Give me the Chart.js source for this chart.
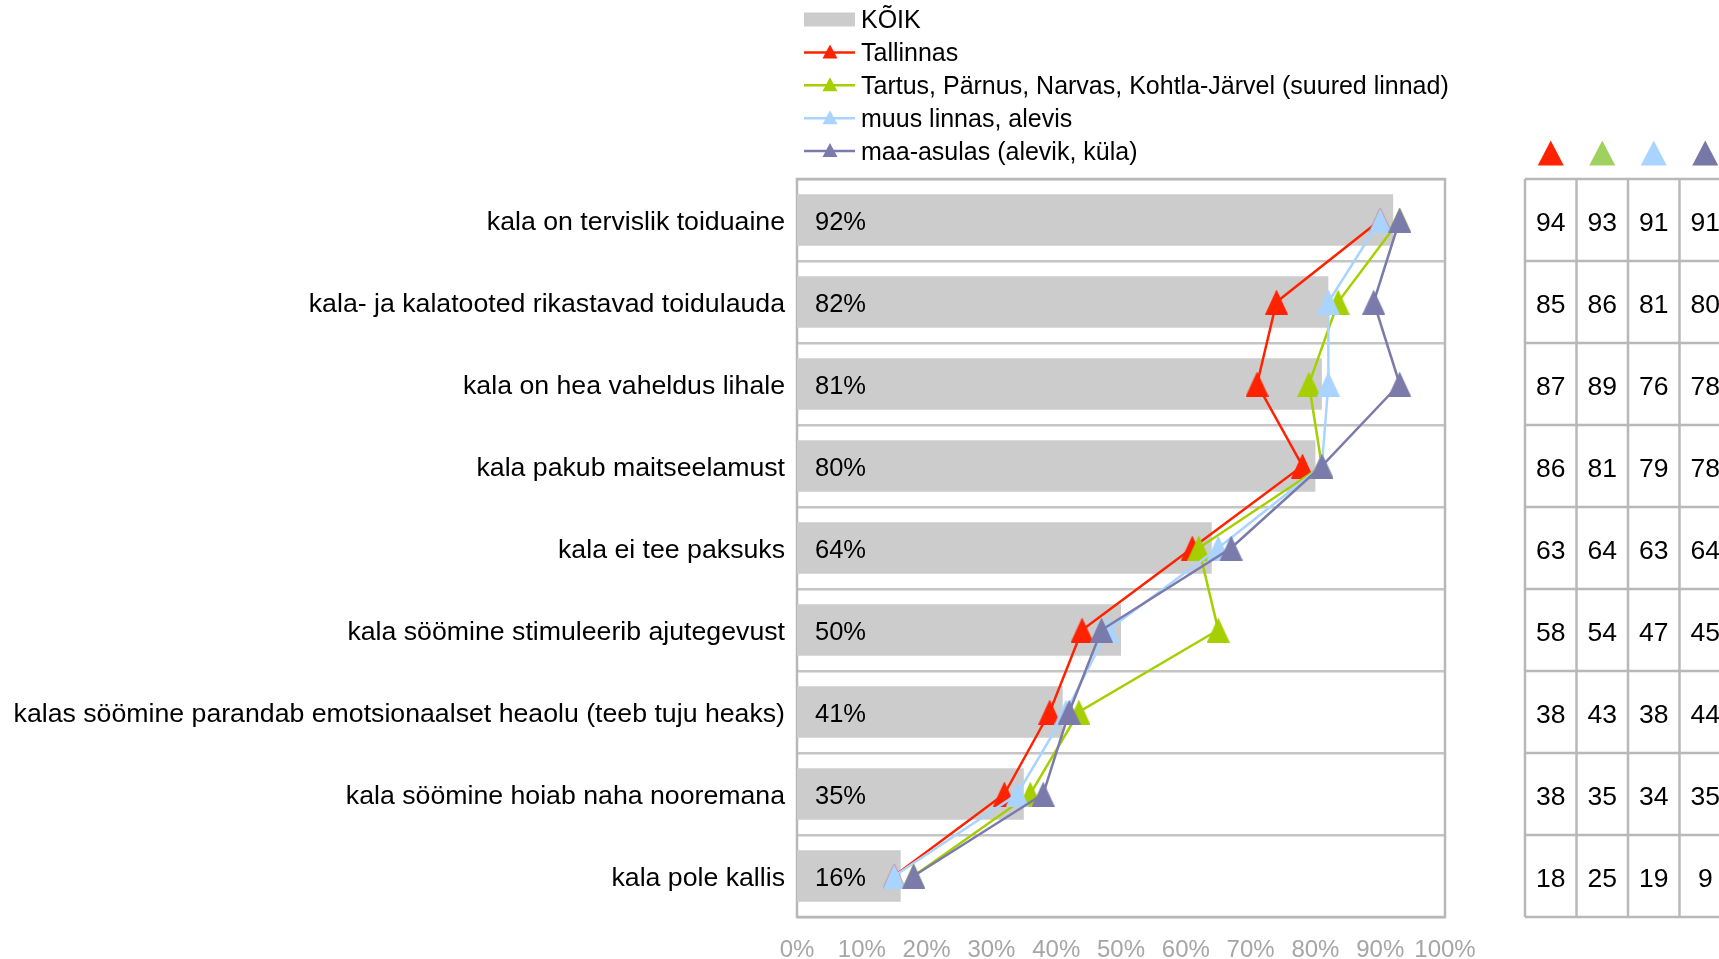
<!DOCTYPE html>
<html>
<head>
<meta charset="utf-8">
<script src="https://cdn.jsdelivr.net/npm/chart.js@4"></script>
<style>
html,body{margin:0;padding:0;background:#fff;}
#wrap{width:1719px;height:959px;position:relative;}
</style>
</head>
<body>
<div id="wrap"><canvas id="c" width="1719" height="959"></canvas></div>
<script>
// ---------- DATA ----------
const categories = [
  "kala on tervislik toiduaine",
  "kala- ja kalatooted rikastavad toidulauda",
  "kala on hea vaheldus lihale",
  "kala pakub maitseelamust",
  "kala ei tee paksuks",
  "kala söömine stimuleerib ajutegevust",
  "kalas söömine parandab emotsionaalset heaolu (teeb tuju heaks)",
  "kala söömine hoiab naha nooremana",
  "kala pole kallis"
];
const seriesLabels = [
  "KÕIK",
  "Tallinnas",
  "Tartus, Pärnus, Narvas, Kohtla-Järvel (suured linnad)",
  "muus linnas, alevis",
  "maa-asulas (alevik, küla)"
];
const koik        = [92, 82, 81, 80, 64, 50, 41, 35, 16];
const tallinnas   = [90, 74, 71, 78, 61, 44, 39, 32, 15];
const suuredLinnad= [93, 83.5, 79, 81, 62, 65, 43.5, 36, 18];
const muusLinnas  = [90, 82, 82, 81, 65, 48, 41.5, 34, 15];
const maaAsulas   = [93, 89, 93, 81, 67, 47, 42, 38, 18];
const xTickValues = [0, 10, 20, 30, 40, 50, 60, 70, 80, 90, 100];
// side table: Tallinnas, suured linnad, muus linnas, maa-asulas
const tableRows = [
  [94, 93, 91, 91],
  [85, 86, 81, 80],
  [87, 89, 76, 78],
  [86, 81, 79, 78],
  [63, 64, 63, 64],
  [58, 54, 47, 45],
  [38, 43, 38, 44],
  [38, 35, 34, 35],
  [18, 25, 19, 9]
];

// ---------- STYLE ----------
const FONT = '"Liberation Sans", Arial, sans-serif';
const colBar = '#cccccc';
const lineColors = ['#ff2200', '#a5cf00', '#a8d4ff', '#7b7bab'];
const headerColors = ['#ff2200', '#9fd15f', '#a8d4ff', '#7777a8'];

function triImg(color, w, h) {
  const c = document.createElement('canvas');
  c.width = w; c.height = h;
  const g = c.getContext('2d');
  g.fillStyle = color;
  g.beginPath();
  g.moveTo(w / 2, 0);
  g.lineTo(w, h);
  g.lineTo(0, h);
  g.closePath();
  g.fill();
  return c;
}
function drawTri(ctx, cx, cy, w, h, color) {
  ctx.fillStyle = color;
  ctx.beginPath();
  ctx.moveTo(cx, cy - h / 2);
  ctx.lineTo(cx + w / 2, cy + h / 2);
  ctx.lineTo(cx - w / 2, cy + h / 2);
  ctx.closePath();
  ctx.fill();
}

const lineSeries = [tallinnas, suuredLinnad, muusLinnas, maaAsulas];
const lineDatasets = lineSeries.map((arr, i) => ({
  type: 'line',
  label: seriesLabels[i + 1],
  data: arr,
  indexAxis: 'y',
  borderColor: lineColors[i],
  backgroundColor: lineColors[i],
  borderWidth: 2.5,
  pointStyle: triImg(lineColors[i], 23, 25),
  pointRadius: 12,
  tension: 0,
  fill: false,
  order: 4 - i
}));

const datasets = [{
  type: 'bar',
  label: seriesLabels[0],
  data: koik,
  indexAxis: 'y',
  backgroundColor: colBar,
  borderWidth: 0,
  barPercentage: 0.63,
  categoryPercentage: 1.0,
  order: 10
}].concat(lineDatasets);

// ---------- PLUGINS ----------
const frameAndTable = {
  id: 'frameAndTable',
  beforeDatasetsDraw(chart) {
    const { ctx, chartArea: a } = chart;
    ctx.save();
    ctx.strokeStyle = '#b8b8b8';
    ctx.lineWidth = 2.5;
    ctx.strokeRect(a.left, a.top, a.right - a.left, a.bottom - a.top);
    ctx.restore();
  },
  afterDatasetDraw(chart, args) {
    if (args.index !== 0) return;
    const { ctx, chartArea: a } = chart;
    const meta = chart.getDatasetMeta(0);
    ctx.save();
    ctx.font = '25.5px ' + FONT;
    ctx.fillStyle = '#000';
    ctx.textBaseline = 'middle';
    ctx.textAlign = 'left';
    meta.data.forEach((el, i) => {
      ctx.fillText(koik[i] + '%', a.left + 18, el.y + 3);
    });
    ctx.restore();
  },
  afterDraw(chart) {
    const { ctx, chartArea: a } = chart;
    const y = chart.scales.y;
    ctx.save();
    // ---- legend ----
    ctx.font = '25px ' + FONT;
    ctx.textBaseline = 'middle';
    ctx.textAlign = 'left';
    chart.data.datasets.forEach((d, i) => {
      const cy = 19.5 + i * 32.9;
      if (d.type === 'bar') {
        ctx.fillStyle = d.backgroundColor;
        ctx.fillRect(804, cy - 7, 51, 14);
      } else {
        ctx.strokeStyle = d.borderColor;
        ctx.lineWidth = 2.5;
        ctx.beginPath();
        ctx.moveTo(804, cy);
        ctx.lineTo(855, cy);
        ctx.stroke();
        drawTri(ctx, 830, cy - 1, 15, 14, d.borderColor);
      }
      ctx.fillStyle = '#000';
      ctx.fillText(d.label, 861, cy + 2);
    });
    // ---- side table ----
    const tLeft = 1525, colW = 51.5, nCols = 4;
    const n = categories.length;
    const top = y.getPixelForValue(-0.5);
    const bottom = y.getPixelForValue(n - 0.5);
    ctx.strokeStyle = '#b8b8b8';
    ctx.lineWidth = 2.5;
    for (let r = 0; r <= n; r++) {
      const py = y.getPixelForValue(r - 0.5);
      ctx.beginPath();
      ctx.moveTo(tLeft, py);
      ctx.lineTo(tLeft + colW * nCols, py);
      ctx.stroke();
    }
    for (let c = 0; c <= nCols; c++) {
      const px = tLeft + c * colW;
      ctx.beginPath();
      ctx.moveTo(px, top);
      ctx.lineTo(px, bottom);
      ctx.stroke();
    }
    ctx.font = '26.5px ' + FONT;
    ctx.fillStyle = '#000';
    ctx.textAlign = 'center';
    ctx.textBaseline = 'middle';
    tableRows.forEach((row, r) => {
      const py = y.getPixelForValue(r);
      row.forEach((v, c) => {
        ctx.fillText(String(v), tLeft + c * colW + colW / 2, py + 4);
      });
    });
    headerColors.forEach((col, c) => {
      drawTri(ctx, tLeft + c * colW + colW / 2, top - 26, 26, 25, col);
    });
    ctx.restore();
  }
};

// ---------- CHART ----------
new Chart(document.getElementById('c'), {
  type: 'bar',
  data: { labels: categories, datasets },
  options: {
    indexAxis: 'y',
    responsive: false,
    animation: false,
    devicePixelRatio: 1,
    layout: { padding: { top: 179, right: 274, bottom: 0, left: 0 } },
    plugins: {
      legend: { display: false },
      tooltip: { enabled: false },
      title: { display: false }
    },
    scales: {
      x: {
        type: 'linear',
        position: 'bottom',
        min: 0,
        max: 100,
        afterBuildTicks(scale) {
          scale.ticks = xTickValues.map(v => ({ value: v }));
        },
        afterFit(scale) { scale.height = 42; },
        grid: { display: false, drawTicks: false },
        border: { display: false },
        ticks: {
          color: '#a6a6a6',
          font: { family: FONT, size: 24 },
          padding: 19,
          maxRotation: 0,
          callback: v => v + '%'
        }
      },
      y: {
        type: 'category',
        position: 'left',
        offset: true,
        afterFit(scale) { scale.width = 797; },
        grid: {
          display: true,
          offset: true,
          color: '#c4c4c4',
          lineWidth: 2.5,
          drawTicks: false
        },
        border: { display: false },
        ticks: {
          color: '#000',
          font: { family: FONT, size: 26.7 },
          padding: 12,
          labelOffset: 0
        }
      }
    }
  },
  plugins: [frameAndTable, {
    id: 'yLabelShift',
    beforeDraw(chart) {
      // shift category label baseline slightly down to match reference
      const ys = chart.scales.y;
      if (!ys._labelShifted) {
        ys._labelShifted = true;
        const orig = ys._computeLabelItems.bind(ys);
        ys._computeLabelItems = function (area) {
          const items = orig(area);
          items.forEach(it => { it.options.translation[1] += 2.5; });
          return items;
        };
        ys._labelItems = null;
      }
    }
  }]
});
</script>
</body>
</html>
